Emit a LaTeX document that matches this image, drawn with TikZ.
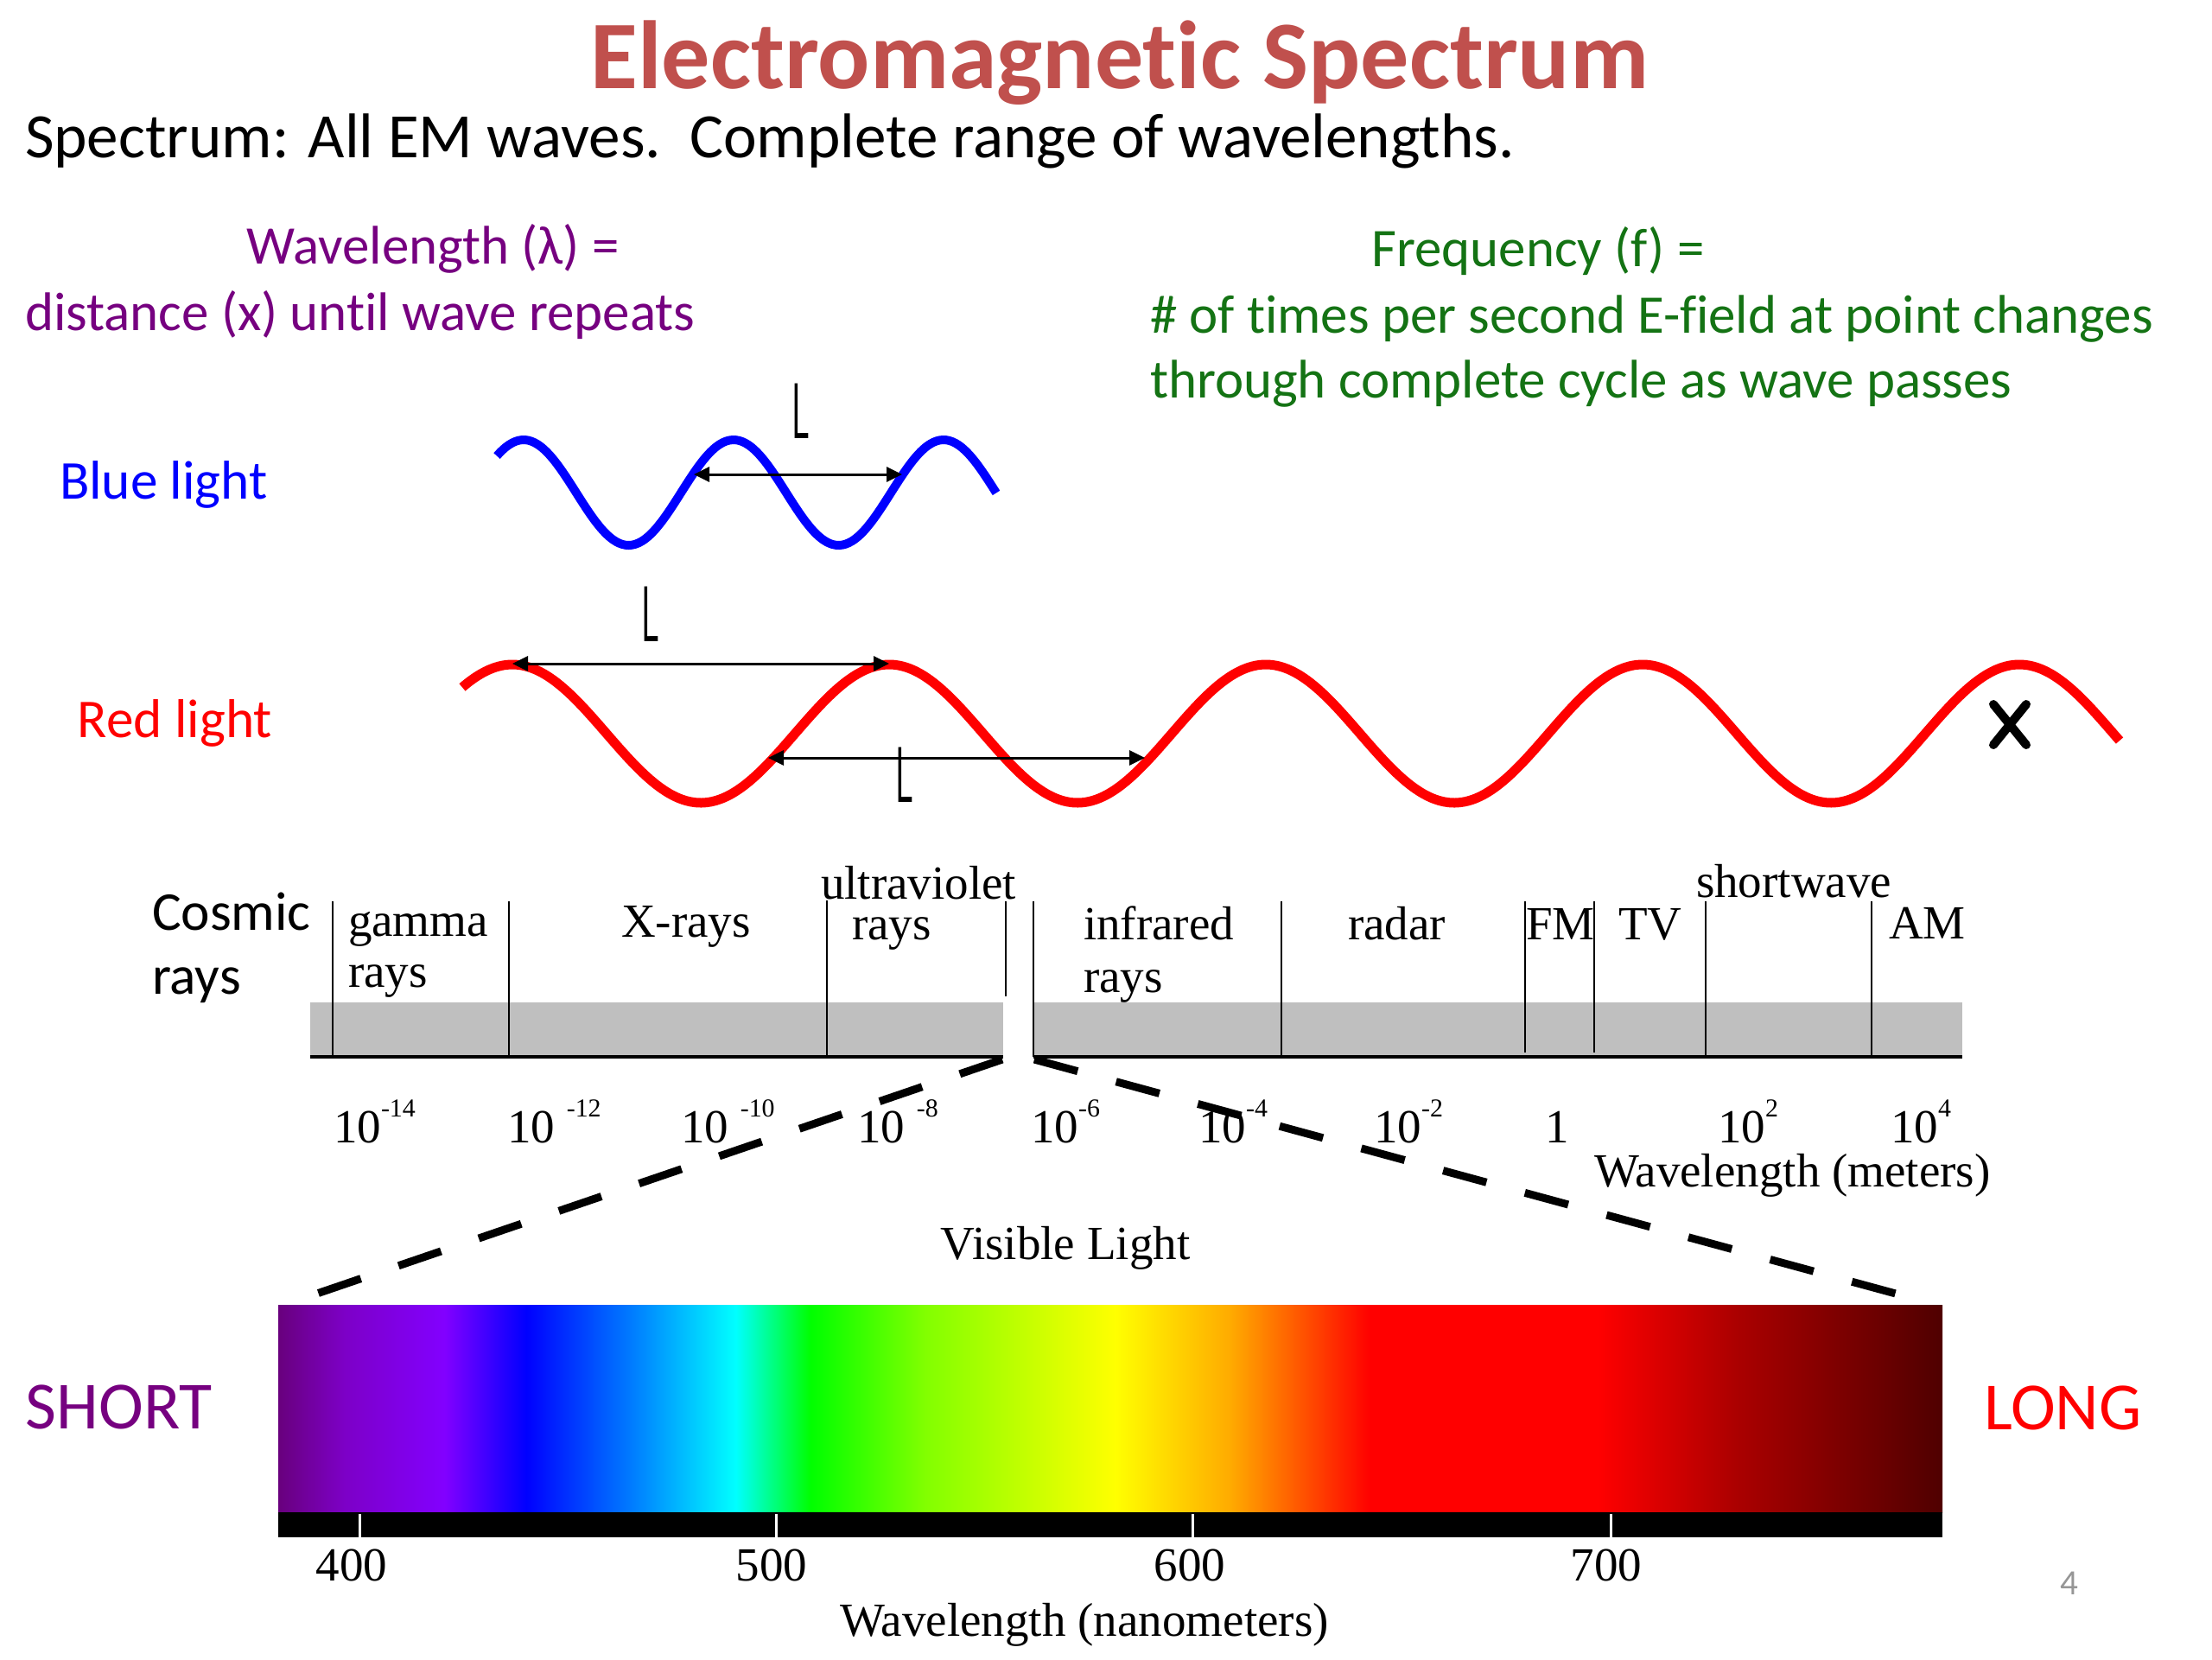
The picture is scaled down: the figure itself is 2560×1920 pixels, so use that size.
\documentclass[tikz,border=0pt]{standalone}
\usepackage{fontspec}
\setmainfont{Carlito}[Ligatures=NoCommon]
\newfontfamily\tnrfont{Liberation Serif}
\usetikzlibrary{arrows.meta}
\definecolor{titlered}{RGB}{192,80,77}
\definecolor{wlpurple}{RGB}{118,0,128}
\definecolor{fqgreen}{RGB}{20,115,20}
\definecolor{bandgray}{RGB}{191,191,191}
\definecolor{pagegray}{RGB}{150,150,150}
\pgfdeclarehorizontalshading{visspec}{100bp}{rgb(0bp)=(0.41,0,0.49); rgb(25bp)=(0.41,0,0.49); rgb(27bp)=(0.49,0,0.78); rgb(30bp)=(0.51,0,1); rgb(32.45bp)=(0,0,1); rgb(35.7bp)=(0,0.5,1); rgb(38.75bp)=(0,1,1); rgb(41bp)=(0,1,0); rgb(44.45bp)=(0.51,1,0); rgb(50.15bp)=(1,1,0); rgb(53.6bp)=(1,0.67,0); rgb(57.8bp)=(1,0,0); rgb(64.65bp)=(1,0,0); rgb(68.8bp)=(0.67,0,0); rgb(75bp)=(0.31,0,0); rgb(100bp)=(0.31,0,0)}
\newcommand\supx[1]{\raisebox{0.53em}{\fontsize{8.5}{9}\selectfont #1}}
\begin{document}
\begin{tikzpicture}[x=0.01cm,y=-0.01cm,
  txt/.style={inner sep=0pt,outer sep=0pt},
  titletxt/.style={txt,anchor=base,text=titlered,font=\fontsize{31.9}{34}\selectfont\bfseries},
  subtxt/.style={txt,anchor=base west,font=\fontsize{20.8}{24}\selectfont},
  wltxt/.style={txt,text=wlpurple,font=\fontsize{17.9}{20}\selectfont},
  fqtxt/.style={txt,text=fqgreen,font=\fontsize{17.9}{20}\selectfont},
  sidetxt/.style={txt,anchor=base west,font=\fontsize{18}{20}\selectfont},
  emtxt/.style={txt,anchor=base west,font=\tnrfont\fontsize{15.65}{17}\selectfont},
  lamtxt/.style={txt,anchor=base west,font=\sffamily\fontsize{26}{28}\selectfont},
  endtxt/.style={txt,anchor=base west,font=\fontsize{22.2}{24}\selectfont},
  bluewave/.style={draw=blue,line width=0.1cm},
  redwave/.style={draw=red,line width=0.11cm},
  dimarrow/.style={draw=black,line width=0.03cm,{Triangle[length=0.18cm,width=0.17cm]}-{Triangle[length=0.18cm,width=0.17cm]}},
  divider/.style={draw=black,line width=0.025cm},
  zoomline/.style={draw=black,line width=0.09cm,dash pattern=on 0.52cm off 0.46cm}
]
\fill[white] (0,0) rectangle (2560,1920);
\useasboundingbox (0,0) rectangle (2560,1920);

% ---- heading texts
\node[titletxt] (title) at (1296,102) {Electromagnetic Spectrum};
\node[subtxt] (subtitle) at (29,182) {Spectrum: All EM waves.\ \ Complete range of wavelengths.};
\node[wltxt,anchor=base] (wl1) at (501,305) {Wavelength (λ) =};
\node[wltxt,anchor=base west] (wl2) at (29,382) {distance (x) until wave repeats};
\node[fqtxt,anchor=base] (fq1) at (1780,308) {Frequency (f) =};
\node[fqtxt,anchor=base west] (fq2) at (1331,385) {\# of times per second E-field at point changes};
\node[fqtxt,anchor=base west] (fq3) at (1331,460) {through complete cycle as wave passes};

% ---- waves
\node[sidetxt,text=blue] (bluelbl) at (69,577) {Blue light};
\node[sidetxt,text=red] (redlbl) at (90,853) {Red light};
\draw[bluewave] plot[domain=575:1153,samples=160,smooth] (\x,{570-61*cos((\x-849)*1.48148)});
\draw[redwave] plot[domain=535:2453,samples=320,smooth] (\x,{849-80*cos((\x-593)*0.825688)});

\coordinate (bA) at (803,549);
\coordinate (bB) at (1044,549);
\draw[dimarrow] (bA) -- (bB);
\node[lamtxt] (lamB) at (916,507) {\scalebox{0.45}[1]{L}};

\coordinate (rA) at (593,768);
\coordinate (rB) at (1029,768);
\draw[dimarrow] (rA) -- (rB);
\node[lamtxt] (lamR1) at (742,742) {\scalebox{0.45}[1]{L}};

\coordinate (rC) at (889,877);
\coordinate (rD) at (1325,877);
\draw[dimarrow] (rC) -- (rD);
\node[lamtxt] (lamR2) at (1036,928) {\scalebox{0.45}[1]{L}};

\draw[line width=0.1cm,line cap=round] (2307,815) -- (2345,862);
\draw[line width=0.1cm,line cap=round] (2345,815) -- (2307,862);

% ---- EM band
\fill[bandgray] (359,1160) rectangle (1161,1223);
\fill[bandgray] (1196,1160) rectangle (2271,1223);
\draw[line width=0.04cm] (359,1223) -- (1161,1223);
\draw[line width=0.04cm] (1196,1223) -- (2271,1223);
\foreach \xx/\ya/\yb in {385/1043/1223,589/1043/1223,957/1042/1223,1164/1043/1153,1196/1043/1223,1483/1043/1223,1765/1043/1218,1845/1043/1218,1974/1043/1223,2166/1043/1223}
  \draw[divider] (\xx,\ya) -- (\xx,\yb);

\node[sidetxt] (cos1) at (176,1076) {Cosmic};
\node[sidetxt] (cos2) at (176,1150) {rays};
\node[emtxt] (gam1) at (403,1083) {gamma};
\node[emtxt] (gam2) at (403,1142) {rays};
\node[emtxt] (xray) at (719,1084) {X-rays};
\node[emtxt] (uv1) at (950,1040) {ultraviolet};
\node[emtxt] (uv2) at (986,1087) {rays};
\node[emtxt] (ir1) at (1254,1087) {infrared};
\node[emtxt] (ir2) at (1254,1148) {rays};
\node[emtxt] (radar) at (1560,1087) {radar};
\node[emtxt] (fm) at (1766,1087) {FM};
\node[emtxt] (tv) at (1873,1087) {TV};
\node[emtxt] (sw) at (1963,1038) {shortwave};
\node[emtxt] (am) at (2186,1086) {AM};

\node[emtxt] (t1) at (386,1322) {10\supx{-14}};
\node[emtxt] (t2) at (587,1322) {10 \supx{-12}};
\node[emtxt] (t3) at (788,1322) {10 \supx{-10}};
\node[emtxt] (t4) at (992,1322) {10 \supx{-8}};
\node[emtxt] (t5) at (1193,1322) {10\supx{-6}};
\node[emtxt] (t6) at (1387,1322) {10\supx{-4}};
\node[emtxt] (t7) at (1590,1322) {10\supx{-2}};
\node[emtxt] (t8) at (1788,1322) {1};
\node[emtxt] (t9) at (1988,1322) {10\supx{2}};
\node[emtxt] (t10) at (2188,1322) {10\supx{4}};
\node[emtxt] (wlm) at (1845,1373) {Wavelength (meters)};

% ---- zoom lines
\coordinate (gapL) at (1160,1226);
\coordinate (gapR) at (1197,1226);
\coordinate (specL) at (358,1500);
\coordinate (specR) at (2205,1500);
\draw[zoomline] (gapL) -- (specL);
\draw[zoomline] (gapR) -- (specR);

\node[emtxt,anchor=base] (vis) at (1233,1457) {Visible Light};

% ---- visible spectrum
\shade[shading=visspec] (322,1510) rectangle (2248,1750);
\fill[black] (322,1750) rectangle (2248,1779);
\foreach \xx in {416,898,1380,1864}
  \draw[white,line width=0.03cm] (\xx,1752) -- (\xx,1779);
\node[emtxt,anchor=base] (n400) at (407,1829) {400};
\node[emtxt,anchor=base] (n500) at (893,1829) {500};
\node[emtxt,anchor=base] (n600) at (1377,1829) {600};
\node[emtxt,anchor=base] (n700) at (1859,1829) {700};
\node[emtxt,anchor=base] (wlnm) at (1255,1893) {Wavelength (nanometers)};

\node[endtxt,text=wlpurple] (short) at (30,1653) {SHORT};
\node[endtxt,text=red] (long) at (2296,1654) {LONG};
\node[txt,anchor=base,text=pagegray,font=\fontsize{11.7}{12}\selectfont] (pg) at (2395,1845) {4};
\end{tikzpicture}
\end{document}
